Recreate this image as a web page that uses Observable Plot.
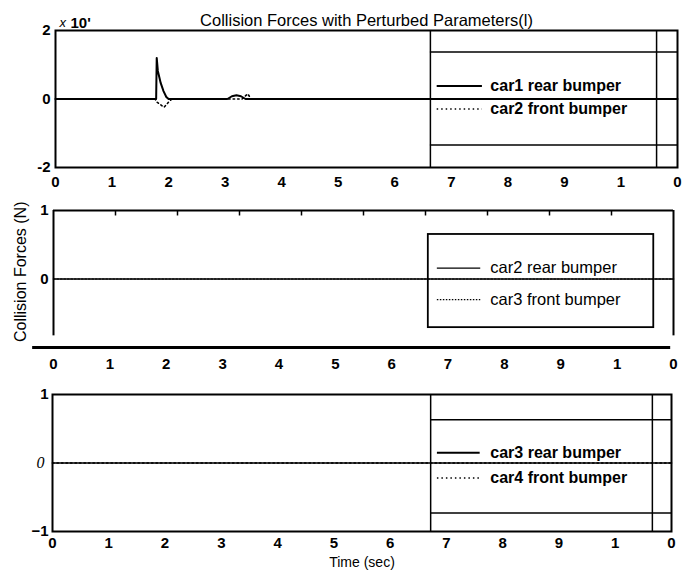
<!DOCTYPE html>
<html><head><meta charset="utf-8">
<script src="https://cdn.jsdelivr.net/npm/d3@7"></script>
<script src="https://cdn.jsdelivr.net/npm/@observablehq/plot@0.6"></script>
<style>
body{margin:0;background:#fff;}
#wrap{position:relative;width:683px;height:578px;overflow:hidden;font-family:"Liberation Sans",Arial,sans-serif;}
#wrap svg{position:absolute;left:0;}
#ylab{position:absolute;left:10px;top:198px;width:24px;height:148px;}
#ylab span{position:absolute;left:2px;top:0;white-space:nowrap;font-size:16px;line-height:17px;transform-origin:0 0;transform:rotate(-90deg);}
</style></head>
<body><div id="wrap"><div id="ylab"><span>Collision Forces (N)</span></div></div>
<script>
// ---- data ----
const titleText = "Collision Forces with Perturbed Parameters(l)";
const xTickValues = [0, 1, 2, 3, 4, 5, 6, 7, 8, 9, 10, 11];
const xTickLabels = ["0", "1", "2", "3", "4", "5", "6", "7", "8", "9", "1", "0"];
const xLabel = "Time (sec)";
const yLabel = "Collision Forces (N)";

// subplot 1 (x 10^?)
const car1RearT = [0, 1.78, 1.79, 1.81, 1.86, 1.91, 1.96, 2.0, 3.04, 3.12, 3.2, 3.28, 3.36, 11];
const car1RearF = [0, 0, 1.2, 0.82, 0.47, 0.23, 0.06, 0, 0, 0.08, 0.11, 0.08, 0, 0];
const car2FrontT = [0, 1.76, 1.8, 1.92, 2.0, 2.06, 3.3, 3.4, 3.46, 11];
const car2FrontF = [0, 0, -0.1, -0.24, -0.09, 0, 0, 0.15, 0, 0];
const y1Ticks = [-2, 0, 2];
const y1Labels = ["-2", "0", "2"];
const legend1 = ["car1 rear bumper", "car2 front bumper"];

// subplot 2
const car2RearT = [0, 11];
const car2RearF = [0, 0];
const car3FrontT = [0, 11];
const car3FrontF = [0, 0];
const y2Ticks = [0, 1];
const y2Labels = ["0", "1"];
const legend2 = ["car2 rear bumper", "car3 front bumper"];

// subplot 3
const car3RearT = [0, 11];
const car3RearF = [0, 0];
const car4FrontT = [0, 11];
const car4FrontF = [0, 0];
const y3Ticks = [-1, 1];
const y3Labels = ["\u22121", "1"];
const legend3 = ["car3 rear bumper", "car4 front bumper"];

// ---- build ----
const FONT = "'Liberation Sans', Arial, sans-serif";
const W = 683;
const toRows = (T, F) => T.map((t, i) => ({t, f: F[i]}));
const fmtX = d => xTickLabels[xTickValues.indexOf(d)];
const baseStyle = {background: "transparent", fontFamily: FONT, fontSize: "14px", color: "#000"};
const topTicks = [1, 2, 3, 4, 5, 6, 7, 8, 9].map(k => k * 1.1);

const p1 = Plot.plot({
  width: W, height: 200, marginTop: 30, marginBottom: 33, marginLeft: 55, marginRight: 6,
  x: {domain: [0, 11]}, y: {domain: [-2, 2]},
  style: baseStyle,
  marks: [
    Plot.frame({stroke: "#000", strokeWidth: 2}),
    Plot.axisX({ticks: xTickValues, tickFormat: fmtX, tickSize: 0, tickPadding: 9, fontWeight: "bold", fontSize: 15, label: null}),
    Plot.axisY({ticks: y1Ticks, tickFormat: d => y1Labels[y1Ticks.indexOf(d)], tickSize: 0, tickPadding: 5, fontWeight: "bold", fontSize: 15, label: null}),
    Plot.ruleX([6.63, 10.63], {stroke: "#000", strokeWidth: 1.5}),
    Plot.ruleY([1.37, -1.34], {x1: 6.63, x2: 11, stroke: "#000", strokeWidth: 1.5}),
    Plot.line(toRows(car2FrontT, car2FrontF), {x: "t", y: "f", stroke: "#000", strokeWidth: 1.6, strokeDasharray: "1.5,3"}),
    Plot.line(toRows(car1RearT, car1RearF), {x: "t", y: "f", stroke: "#000", strokeWidth: 2}),
    Plot.ruleY([0.38], {x1: 6.75, x2: 7.55, stroke: "#000", strokeWidth: 2.2}),
    Plot.ruleY([-0.29], {x1: 6.75, x2: 7.55, stroke: "#000", strokeWidth: 1.4, strokeDasharray: "1.5,3"}),
    Plot.text(legend1, {x: 7.69, y: [0.38, -0.29], text: d => d, textAnchor: "start", fontSize: 16, fontWeight: "bold"}),
    Plot.text([titleText], {frameAnchor: "top", dy: -16, fontSize: 16.5}),
    Plot.text(["x"], {frameAnchor: "top-left", dx: 4, dy: -13, textAnchor: "start", fontStyle: "italic", fontSize: 13}),
    Plot.text(["10'"], {frameAnchor: "top-left", dx: 15, dy: -13, textAnchor: "start", fontWeight: "bold", fontSize: 15})
  ]
});
p1.style.top = "0px";

const p2 = Plot.plot({
  width: W, height: 190, marginTop: 15, marginBottom: 38, marginLeft: 53, marginRight: 10,
  x: {domain: [0, 11]}, y: {domain: [-1, 1]},
  style: baseStyle,
  marks: [
    Plot.ruleY([1], {x1: 0, x2: 11, stroke: "#000", strokeWidth: 2}),
    Plot.ruleX([0, 11], {y1: -0.83, y2: 1, stroke: "#000", strokeWidth: 2}),
    Plot.ruleY([-1], {x1: -0.37, x2: 10.95, stroke: "#000", strokeWidth: 3}),
    Plot.ruleX(topTicks, {y1: 1, y2: 0.92, stroke: "#000", strokeWidth: 1.5}),
    Plot.axisX({ticks: xTickValues, tickFormat: fmtX, tickSize: 0, tickPadding: 11, fontWeight: "bold", fontSize: 15, label: null}),
    Plot.axisY({ticks: y2Ticks, tickFormat: d => y2Labels[y2Ticks.indexOf(d)], tickSize: 0, tickPadding: 5, fontWeight: "bold", fontSize: 15, label: null}),
    Plot.rect([0], {x1: 6.65, x2: 10.65, y1: -0.71, y2: 0.65, fill: "none", stroke: "#000", strokeWidth: 1.8}),
    Plot.line(toRows(car3FrontT, car3FrontF), {x: "t", y: "f", stroke: "#000", strokeWidth: 1.2, strokeDasharray: "1.5,2"}),
    Plot.line(toRows(car2RearT, car2RearF), {x: "t", y: "f", stroke: "#000", strokeWidth: 1.6}),
    Plot.ruleY([0.16], {x1: 6.81, x2: 7.58, stroke: "#000", strokeWidth: 1.2}),
    Plot.ruleY([-0.3], {x1: 6.81, x2: 7.58, stroke: "#000", strokeWidth: 1.2, strokeDasharray: "1.5,1.5"}),
    Plot.text(legend2, {x: 7.75, y: [0.16, -0.3], text: d => d, textAnchor: "start", fontSize: 16.5, fontWeight: "normal"})
  ]
});
p2.style.top = "195px";

const p3 = Plot.plot({
  width: W, height: 198, marginTop: 14, marginBottom: 47, marginLeft: 52, marginRight: 12,
  x: {domain: [0, 11]}, y: {domain: [-1, 1]},
  style: baseStyle,
  marks: [
    Plot.frame({stroke: "#000", strokeWidth: 2}),
    Plot.axisX({ticks: xTickValues, tickFormat: fmtX, tickSize: 0, tickPadding: 6, fontWeight: "bold", fontSize: 15, label: null}),
    Plot.axisY({ticks: y3Ticks, tickFormat: d => y3Labels[y3Ticks.indexOf(d)], tickSize: 0, tickPadding: 4, fontWeight: "bold", fontSize: 15, label: null}),
    Plot.text(["0"], {frameAnchor: "left", y: 0, dx: -16, fontFamily: "'Liberation Serif', serif", fontStyle: "italic", fontSize: 16, fill: "#000"}),
    Plot.ruleX([6.72, 10.66], {stroke: "#000", strokeWidth: 1.5}),
    Plot.ruleY([0.63, -0.73], {x1: 6.72, x2: 11, stroke: "#000", strokeWidth: 1.5}),
    Plot.line(toRows(car4FrontT, car4FrontF), {x: "t", y: "f", stroke: "#000", strokeWidth: 1.4, strokeDasharray: "1.5,3"}),
    Plot.line(toRows(car3RearT, car3RearF), {x: "t", y: "f", stroke: "#000", strokeWidth: 1.6}),
    Plot.ruleY([0.15], {x1: 6.84, x2: 7.6, stroke: "#000", strokeWidth: 2.2}),
    Plot.ruleY([-0.22], {x1: 6.84, x2: 7.6, stroke: "#000", strokeWidth: 1.4, strokeDasharray: "1.5,3"}),
    Plot.text(legend3, {x: 7.78, y: [0.15, -0.22], text: d => d, textAnchor: "start", fontSize: 16, fontWeight: "bold"}),
    Plot.text([xLabel], {frameAnchor: "bottom", dy: 35, fontSize: 14})
  ]
});
p3.style.top = "380px";

const wrap = document.getElementById("wrap");
wrap.appendChild(p1);
wrap.appendChild(p2);
wrap.appendChild(p3);

// y label placement
const span = document.querySelector("#ylab span");
span.textContent = yLabel;
const w = span.getBoundingClientRect().height; // rotated: height = text width
span.style.top = (w + 4) + "px";
</script>
</body></html>
